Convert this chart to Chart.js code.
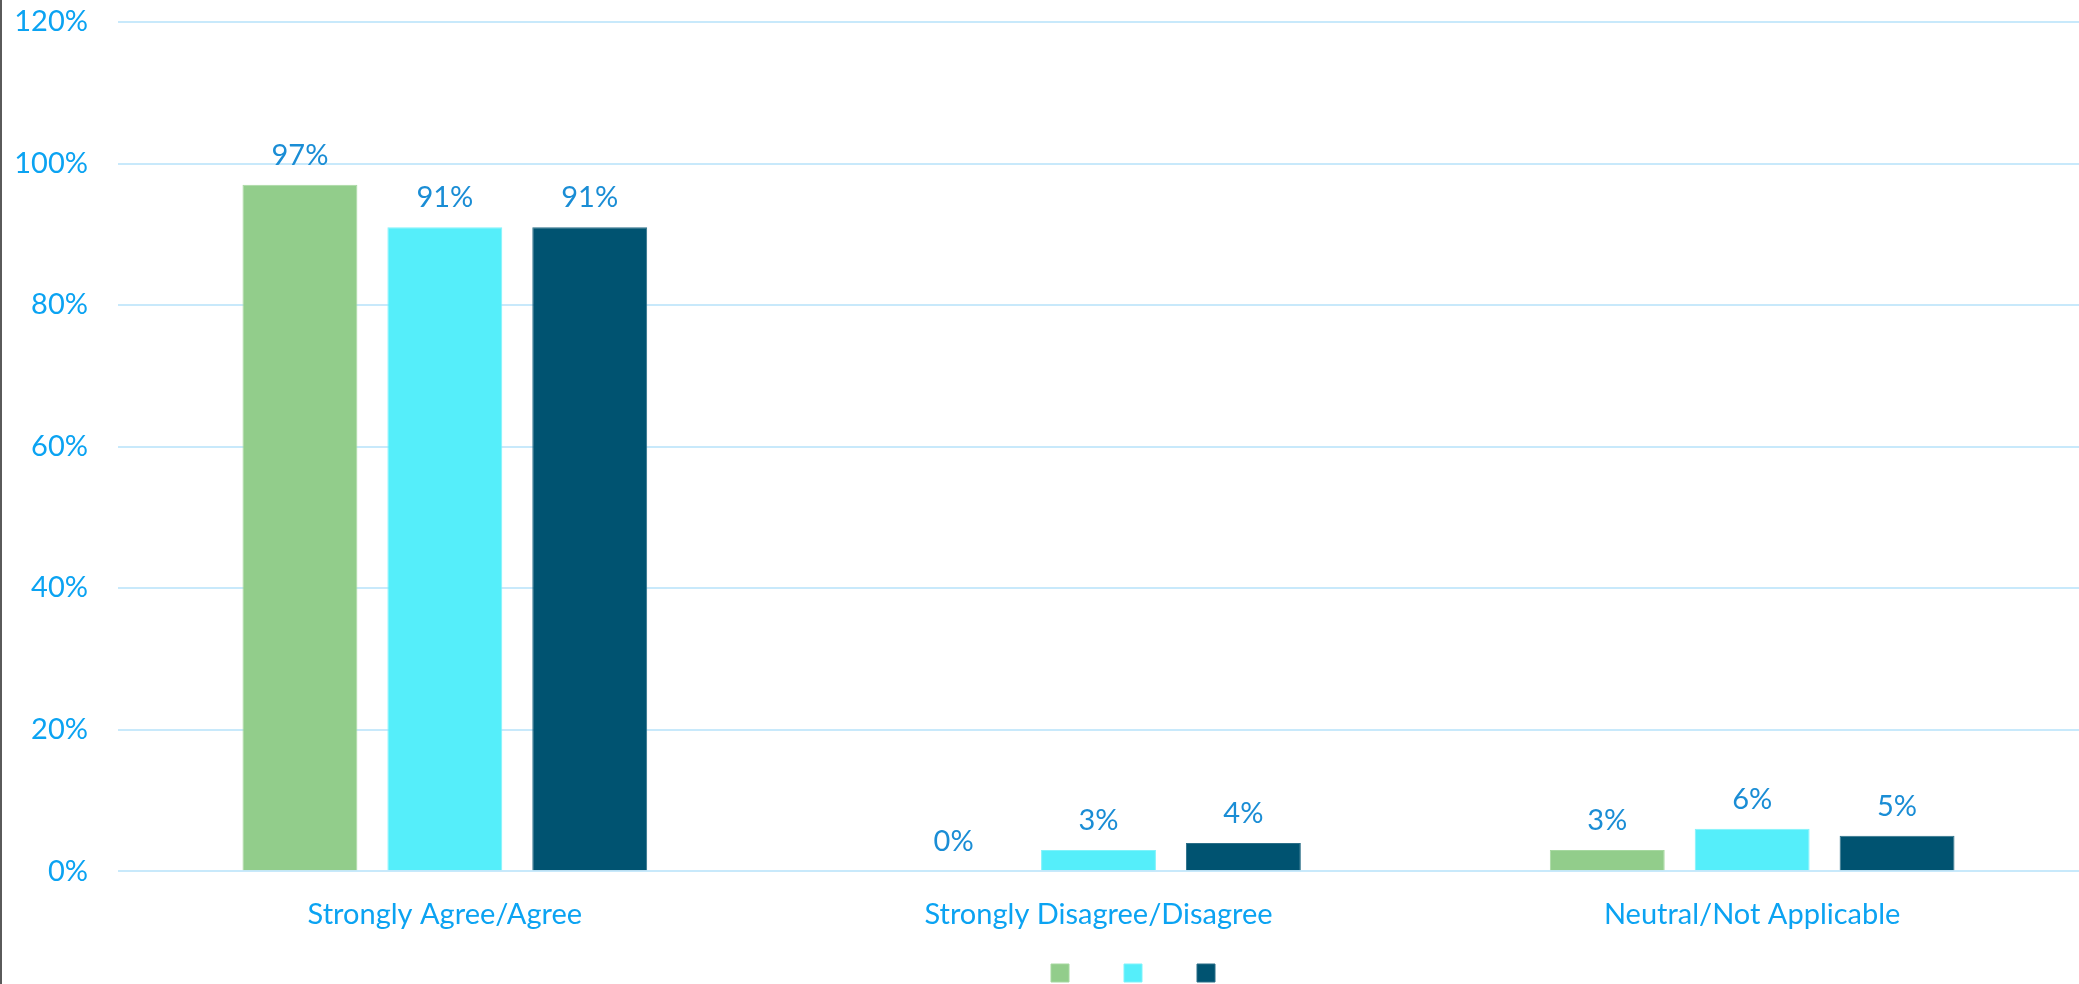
<!DOCTYPE html>
<html>
<head>
<meta charset="utf-8">
<script src="https://cdn.jsdelivr.net/npm/chart.js@4/dist/chart.umd.min.js"></script>
<style>
  html, body { margin: 0; padding: 0; background: #fff; overflow: hidden; }
  #wrap { border-left: 2px solid #5a5a5a; width: 2077px; height: 984px; }
</style>
</head>
<body>
<div id="wrap"><canvas id="grafico" width="2077" height="984"></canvas></div>
<script>
// categorias y series
const categorias = ['Strongly Agree/Agree', 'Strongly Disagree/Disagree', 'Neutral/Not Applicable'];
const serieA = [97, 0, 3];
const serieB = [91, 3, 6];
const serieC = [91, 4, 5];
const ticksY = [0, 20, 40, 60, 80, 100, 120];

const azulTicks = '#0BA3F2';
const azulEtiquetas = '#1A8DD5';
const fuente = 'Lato, "Open Sans", sans-serif';

// etiquetas de valor encima de cada barra
const etiquetasBarras = {
  id: 'etiquetasBarras',
  afterDatasetsDraw(chart) {
    const ctx = chart.ctx;
    ctx.save();
    ctx.font = '29px ' + fuente;
    ctx.fillStyle = azulEtiquetas;
    ctx.textAlign = 'center';
    ctx.textBaseline = 'alphabetic';
    chart.data.datasets.forEach((ds, i) => {
      chart.getDatasetMeta(i).data.forEach((bar, j) => {
        ctx.fillText(ds.data[j] + '%', bar.x, bar.y - 20);
      });
    });
    ctx.restore();
  }
};

// mueve la leyenda (solo cuadros) hacia la derecha y arriba
const moverLeyenda = {
  id: 'moverLeyenda',
  afterLayout(chart) {
    const lg = chart.legend;
    lg.left += 97; lg.right += 97;
    lg.top -= 32; lg.bottom -= 32;
  }
};

new Chart(document.getElementById('grafico'), {
  type: 'bar',
  data: {
    labels: categorias,
    datasets: [
      { label: '', data: serieA, backgroundColor: '#92CD8B', borderColor: '#A6D8A0', borderWidth: 1 },
      { label: '', data: serieB, backgroundColor: '#55EEFA', borderColor: '#7FF3FB', borderWidth: 1 },
      { label: '', data: serieC, backgroundColor: '#005371', borderColor: '#2B6F88', borderWidth: 1 }
    ]
  },
  options: {
    responsive: false,
    animation: false,
    devicePixelRatio: 1,
    layout: { padding: { top: 0, right: 0, left: 0, bottom: -40 } },
    datasets: { bar: { categoryPercentage: 0.665, barPercentage: 0.793 } },
    plugins: {
      legend: {
        position: 'bottom',
        labels: { boxWidth: 18, boxHeight: 18, padding: 46, font: { size: 18, family: fuente } }
      },
      tooltip: { enabled: false }
    },
    scales: {
      x: {
        grid: { display: false },
        border: { display: false },
        ticks: { color: azulTicks, font: { size: 29, family: fuente }, padding: 18 }
      },
      y: {
        min: 0,
        max: 120,
        afterBuildTicks(s) { s.ticks = ticksY.map(v => ({ value: v })); },
        grid: { color: '#C8E9FB', lineWidth: 2, drawTicks: false },
        border: { display: false },
        ticks: {
          color: azulTicks,
          font: { size: 29, family: fuente },
          padding: 30,
          callback: v => v + '%'
        },
        afterFit(s) {
          s.width = 116;
          s.paddingTop = 22;
          s.paddingBottom = 0;
        }
      }
    }
  },
  plugins: [etiquetasBarras, moverLeyenda]
});
</script>
</body>
</html>
